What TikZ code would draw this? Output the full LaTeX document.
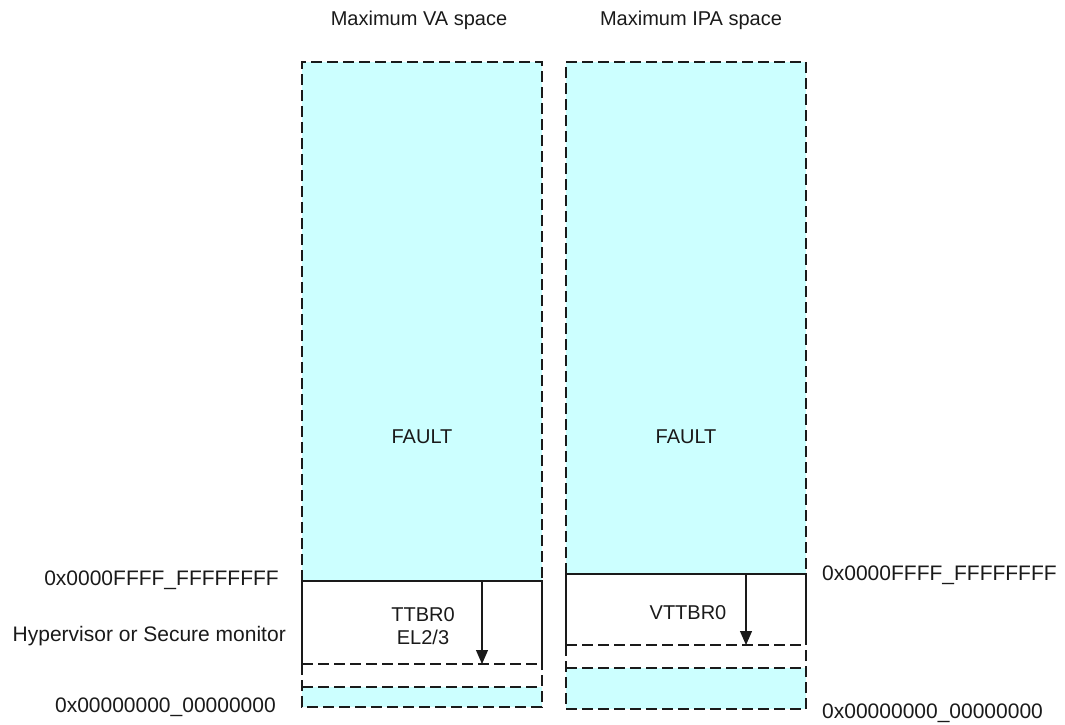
\documentclass[tikz,border=0pt]{standalone}
\usepackage{fontspec}
\setmainfont{Liberation Sans}
\usetikzlibrary{arrows.meta}
\definecolor{faultcyan}{HTML}{CCFFFF}
\definecolor{ink}{HTML}{1A1A1A}
\tikzset{
  lbl/.style={inner sep=0pt, text=ink, font=\fontsize{21}{25}\selectfont},
  ttl/.style={inner sep=0pt, text=ink, font=\fontsize{20}{24}\selectfont},
  solidline/.style={draw=ink, line width=1.1pt},
  dashline/.style={draw=ink, line width=1.1pt, dash pattern=on 11pt off 5pt},
  ptr/.style={draw=ink, line width=1.1pt, -{Triangle[width=12pt,length=14pt]}},
}
\begin{document}
\begin{tikzpicture}[x=1pt,y=-1pt]
\useasboundingbox (0,0) rectangle (1065,725);
% ---------- left column (VA) ----------
\fill[faultcyan] (302,62) rectangle (542,581);
\fill[faultcyan] (302,687) rectangle (542,707);
\draw[dashline] (302,581) -- (302,62) -- (542,62) -- (542,581);
\draw[solidline] (302,664) -- (302,581) -- (542,581) -- (542,664);
\draw[dashline] (302,664) -- (542,664);
\draw[dashline] (302,664) -- (302,707) -- (542,707) -- (542,664);
\draw[dashline] (302,687) -- (542,687);
% ---------- right column (IPA) ----------
\fill[faultcyan] (566,62) rectangle (806,574);
\fill[faultcyan] (566,668) rectangle (806,709);
\draw[dashline] (566,574) -- (566,62) -- (806,62) -- (806,574);
\draw[solidline] (566,645) -- (566,574) -- (806,574) -- (806,645);
\draw[dashline] (566,645) -- (806,645);
\draw[dashline] (566,645) -- (566,709) -- (806,709) -- (806,645);
\draw[dashline] (566,668) -- (806,668);
% ---------- arrows ----------
\coordinate (a1s) at (482,581);
\coordinate (a1e) at (482,664);
\coordinate (a2s) at (746,574);
\coordinate (a2e) at (746,645);
\draw[ptr] (a1s) -- (a1e);
\draw[ptr] (a2s) -- (a2e);
% ---------- texts ----------
\node[ttl] (tva) at (419,20) {Maximum VA space};
\node[ttl] (tipa) at (691,20) {Maximum IPA space};
\node[ttl] (f1) at (422,437) {FAULT};
\node[ttl] (f2) at (686,437) {FAULT};
\node[ttl, align=center] (ttbr) at (423,626) {TTBR0\\[-1pt]EL2/3};
\node[ttl] (vttbr) at (688,613) {VTTBR0};
\node[lbl, anchor=east] (lmax) at (279,580) {0x0000FFFF\_FFFFFFFF};
\node[lbl, anchor=east] (lhyp) at (286,636) {Hypervisor or Secure monitor};
\node[lbl, anchor=east] (lzero) at (276,707) {0x00000000\_00000000};
\node[lbl, anchor=west] (rmax) at (822,575) {0x0000FFFF\_FFFFFFFF};
\node[lbl, anchor=west] (rzero) at (822,713) {0x00000000\_00000000};
\end{tikzpicture}
\end{document}
